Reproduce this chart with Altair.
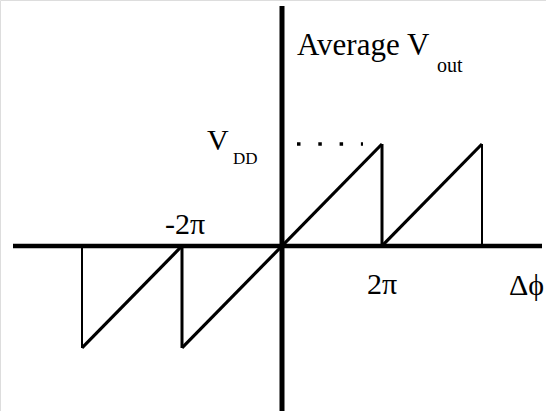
import altair as alt
import pandas as pd

# Phase difference in units of pi, average output in units of VDD
ramp_x0 = [-4, -2, 2]
ramp_y0 = [-1, -1, 0]
ramp_x1 = [-2, 2, 4]
ramp_y1 = [0, 1, 1]

drop_x = [-4, -2, 2, 4]
drop_top = [0, 0, 1, 1]
drop_bottom = [-1, -1, 0, 0]

vdd_level = [1]
vdd_leader_x0 = [0.3]
vdd_leader_x1 = [1.62]

FONT = "Liberation Serif"
W, H = 546, 411

xs = alt.Scale(domain=[-5.64, 5.28], nice=False, zero=False)
ys = alt.Scale(domain=[-1.618, 2.412], nice=False, zero=False)

ramps = pd.DataFrame({"x0": ramp_x0, "y0": ramp_y0, "x1": ramp_x1, "y1": ramp_y1})
drops = pd.DataFrame({"x": drop_x, "top": drop_top, "bottom": drop_bottom})
leader = pd.DataFrame({"y": vdd_level, "x0": vdd_leader_x0, "x1": vdd_leader_x1})
origin = pd.DataFrame({"v": [0]})

X = lambda f: alt.X(f, scale=xs, axis=None)
Y = lambda f: alt.Y(f, scale=ys, axis=None)

# coordinate axes through the origin
h_axis = alt.Chart(origin).mark_rule(color="black", strokeWidth=4.5).encode(
    y=Y("v:Q"), x=alt.value(13), x2=alt.value(542)
)
v_axis = alt.Chart(origin).mark_rule(color="black", strokeWidth=5).encode(
    x=X("v:Q"), y=alt.value(6), y2=alt.value(H)
)

# rising ramps of the sawtooth
ramp_layer = alt.Chart(ramps).mark_rule(color="black", strokeWidth=3.2).encode(
    x=X("x0:Q"), y=Y("y0:Q"), x2="x1:Q", y2="y1:Q"
)

# vertical resets: inner ones heavier than the outer ones
drop_inner = alt.Chart(drops).transform_filter("abs(datum.x) < 3").mark_rule(
    color="black", strokeWidth=3
).encode(x=X("x:Q"), y=Y("top:Q"), y2="bottom:Q")
drop_outer = alt.Chart(drops).transform_filter("abs(datum.x) >= 3").mark_rule(
    color="black", strokeWidth=2
).encode(x=X("x:Q"), y=Y("top:Q"), y2="bottom:Q")

# dotted leader at VDD
leader_layer = alt.Chart(leader).mark_rule(
    color="black", strokeWidth=3.5, strokeDash=[3.5, 17.8], strokeCap="butt"
).encode(x=X("x0:Q"), x2="x1:Q", y=Y("y:Q"))


def label(text, x, y, size):
    return alt.Chart(origin).mark_text(
        text=text, font=FONT, fontSize=size, align="left", baseline="alphabetic",
        color="black"
    ).encode(x=alt.value(x), y=alt.value(y))


labels = [
    label("Average V", 297, 55, 31),
    label("out", 437, 72, 20),
    label("V", 207, 150, 30),
    label("DD", 233, 164, 17),
    label("-2π", 165, 234, 30),
    label("2π", 367, 294, 30),
    label("Δϕ", 509, 295, 30),
]

chart = alt.layer(
    ramp_layer, drop_inner, drop_outer, leader_layer, h_axis, v_axis, *labels
).properties(
    width=W, height=H, padding=0, autosize=alt.AutoSizeParams(type="none")
).configure_view(stroke=None).configure(background="white")

chart.save("out.html", embed_options={"renderer": "svg", "actions": False})
